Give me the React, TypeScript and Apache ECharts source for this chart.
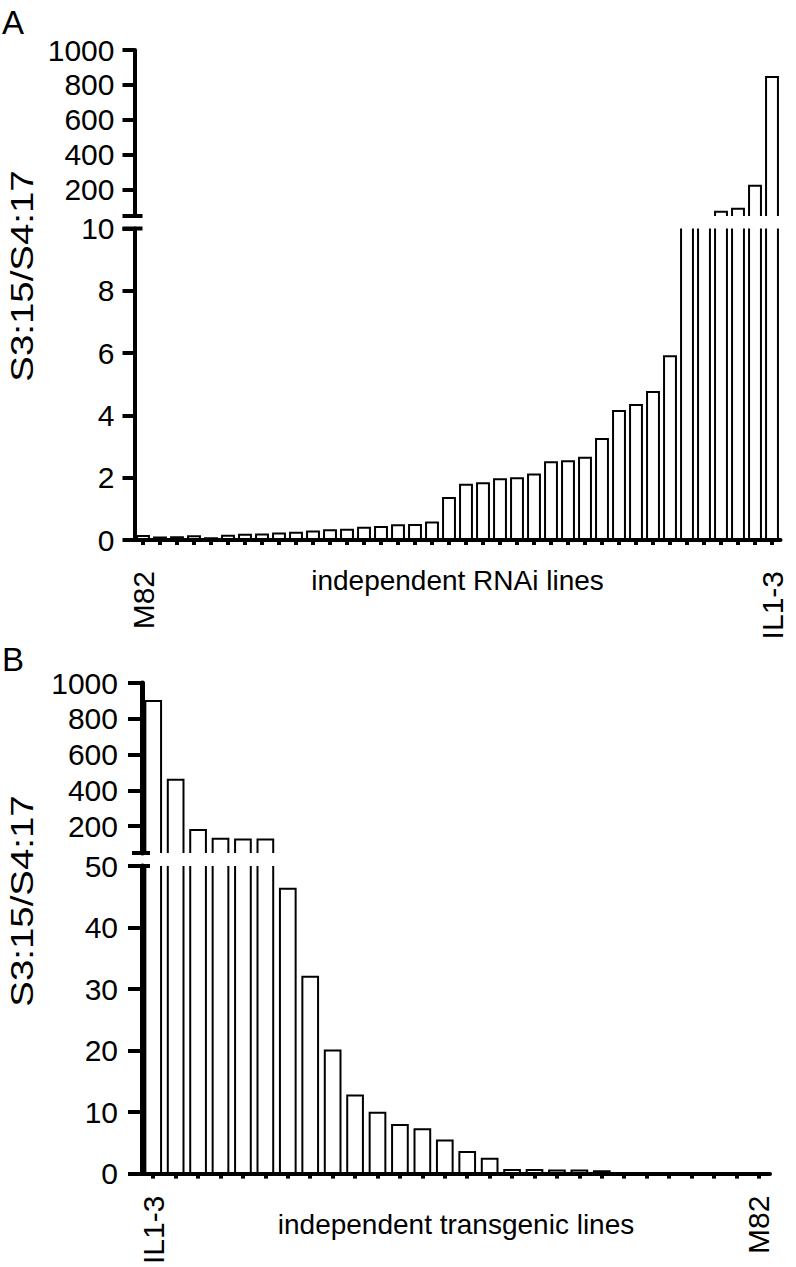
import React, { useEffect, useRef } from "react";
import * as echarts from "echarts";

// ---------- data ----------
const categoriesA: string[] = [
  "M82",
  ...Array.from({ length: 36 }, (_, k) => `RNAi-${k + 1}`),
  "IL1-3",
];
const valuesA: number[] = [
  0.13, 0.08, 0.09, 0.12, 0.06, 0.14, 0.17, 0.18, 0.21, 0.23, 0.27, 0.31, 0.33,
  0.39, 0.42, 0.47, 0.48, 0.56, 1.35, 1.77, 1.82, 1.95, 1.98, 2.1, 2.5, 2.53,
  2.64, 3.24, 4.14, 4.33, 4.75, 5.9, 25, 40, 74, 91, 223, 846,
];

const categoriesB: string[] = [
  "IL1-3",
  ...Array.from({ length: 26 }, (_, k) => `T-${k + 1}`),
  "M82",
];
const valuesB: number[] = [
  899, 460, 178, 129, 125, 125, 46.3, 32.0, 20.0, 12.7, 9.9, 7.9, 7.2, 5.4, 3.5,
  2.4, 0.6, 0.6, 0.5, 0.5, 0.4, 0.05, 0.03, 0.02, 0.02, 0.01, 0.01, 0.01,
];

const upperTicks: number[] = [200, 400, 600, 800, 1000];
const axisLabelA = "independent RNAi lines";
const axisLabelB = "independent transgenic lines";
const yTitle = "S3:15/S4:17";

// ---------- layout ----------
const FONT = "'Liberation Sans', Arial, Helvetica, sans-serif";
const LA = { left: 134.5, width: 646, topTop: 50, topH: 166, botTop: 228.5, botH: 311.5 };
const LB = { left: 142, width: 628, topTop: 683, topH: 170, botTop: 866, botH: 310 };

function makeRender(segMin: number, segMax: number) {
  return (params: any, api: any) => {
    const i = api.value(0);
    const v = api.value(1);
    if (v <= segMin && segMin > 0) return null;
    const base = api.coord([i, segMin]);
    const bw = api.size([1, 0])[0] * 0.7;
    const xl = base[0] - bw / 2;
    const xr = base[0] + bw / 2;
    const style = { stroke: "#000", lineWidth: 2, fill: null };
    if (v > segMax) {
      const top = api.coord([i, segMax])[1];
      return {
        type: "group",
        children: [
          { type: "line", shape: { x1: xl, y1: base[1], x2: xl, y2: top }, style },
          { type: "line", shape: { x1: xr, y1: base[1], x2: xr, y2: top }, style },
        ],
      };
    }
    const top = api.coord([i, v])[1];
    return {
      type: "polyline",
      shape: { points: [[xl, base[1]], [xl, top], [xr, top], [xr, base[1]]] },
      style,
    };
  };
}

function yAxisUpper(gridIndex: number, margin: number, tickLen: number, width: number) {
  return {
    type: "value",
    gridIndex,
    min: 50,
    max: 1000,
    axisLine: { show: true, lineStyle: { color: "#000", width } },
    axisTick: { show: true, customValues: upperTicks, length: tickLen, lineStyle: { color: "#000", width: 4 } },
    axisLabel: {
      customValues: upperTicks,
      fontSize: 30,
      color: "#000",
      fontFamily: FONT,
      margin,
      formatter: (v: number) => String(v),
    },
    splitLine: { show: false },
  };
}

function yAxisLower(gridIndex: number, max: number, interval: number, margin: number, tickLen: number, width: number) {
  return {
    type: "value",
    gridIndex,
    min: 0,
    max,
    interval,
    axisLine: { show: true, lineStyle: { color: "#000", width } },
    axisTick: { show: true, length: tickLen, lineStyle: { color: "#000", width: 4 } },
    axisLabel: { fontSize: 30, color: "#000", fontFamily: FONT, margin, formatter: (v: number) => String(v) },
    splitLine: { show: false },
  };
}

function xAxisHidden(gridIndex: number, data: string[]) {
  return { type: "category", gridIndex, data, show: false };
}

function xAxisShown(gridIndex: number, data: string[], name: string, labelMargin: number, nameGap: number) {
  const first = data[0];
  const last = data[data.length - 1];
  return {
    type: "category",
    gridIndex,
    data,
    name,
    nameLocation: "middle",
    nameGap,
    nameMoveOverlap: false,
    nameTextStyle: { fontSize: 28, color: "#000", fontFamily: FONT },
    axisLine: { show: true, lineStyle: { color: "#000", width: 4 } },
    axisTick: { show: true, alignWithLabel: true, interval: 0, length: 5, lineStyle: { color: "#000", width: 4 } },
    axisLabel: {
      interval: 0,
      rotate: 90,
      fontSize: 30,
      color: "#000",
      fontFamily: FONT,
      margin: labelMargin,
      padding: [0, 0, 8, 0],
      formatter: (val: string) => (val === first || val === last ? val : ""),
    },
    splitLine: { show: false },
  };
}

export default function App() {
  const ref = useRef<HTMLDivElement>(null);
  useEffect(() => {
    if (!ref.current) return;
    const chart = echarts.init(ref.current, undefined, { renderer: "svg" });
    const dataA = valuesA.map((v, i) => [i, v]);
    const dataB = valuesB.map((v, i) => [i, v]);
    const breakStyle = { stroke: "#000", lineWidth: 4 };
    chart.setOption({
      animation: false,
      backgroundColor: "#fff",
      grid: [
        { left: LA.left, width: LA.width, top: LA.topTop, height: LA.topH },
        { left: LA.left, width: LA.width, top: LA.botTop, height: LA.botH },
        { left: LB.left, width: LB.width, top: LB.topTop, height: LB.topH },
        { left: LB.left, width: LB.width, top: LB.botTop, height: LB.botH },
      ],
      xAxis: [
        xAxisHidden(0, categoriesA),
        xAxisShown(1, categoriesA, axisLabelA, 31, 26),
        xAxisHidden(2, categoriesB),
        xAxisShown(3, categoriesB, axisLabelB, 22, 37),
      ],
      yAxis: [
        yAxisUpper(0, 20, 12, 4),
        yAxisLower(1, 10, 2, 20, 12, 4),
        yAxisUpper(2, 24, 14, 5),
        yAxisLower(3, 50, 10, 24, 14, 5),
      ],
      series: [
        { type: "custom", xAxisIndex: 0, yAxisIndex: 0, data: dataA, encode: { x: 0, y: 1 }, renderItem: makeRender(50, 1000) },
        { type: "custom", xAxisIndex: 1, yAxisIndex: 1, data: dataA, encode: { x: 0, y: 1 }, renderItem: makeRender(0, 10) },
        { type: "custom", xAxisIndex: 2, yAxisIndex: 2, data: dataB, encode: { x: 0, y: 1 }, renderItem: makeRender(50, 1000) },
        { type: "custom", xAxisIndex: 3, yAxisIndex: 3, data: dataB, encode: { x: 0, y: 1 }, renderItem: makeRender(0, 50) },
      ],
      graphic: [
        { type: "text", x: 2, y: 6, style: { text: "A", fontSize: 33, fontFamily: FONT, fill: "#000" } },
        { type: "text", x: 2, y: 643, style: { text: "B", fontSize: 33, fontFamily: FONT, fill: "#000" } },
        {
          type: "text", x: 22, y: 276, rotation: Math.PI / 2, scaleX: 1.2,
          style: { text: yTitle, fontSize: 32, fontFamily: FONT, fill: "#000", align: "center", verticalAlign: "middle" },
        },
        {
          type: "text", x: 22, y: 901, rotation: Math.PI / 2, scaleX: 1.2,
          style: { text: yTitle, fontSize: 32, fontFamily: FONT, fill: "#000", align: "center", verticalAlign: "middle" },
        },
        // axis break markers
        { type: "line", shape: { x1: LA.left - 12, y1: LA.topTop + LA.topH, x2: LA.left + 8, y2: LA.topTop + LA.topH }, style: breakStyle },
        { type: "line", shape: { x1: LA.left - 12, y1: LA.botTop, x2: LA.left + 8, y2: LA.botTop }, style: breakStyle },
        { type: "line", shape: { x1: LB.left - 10, y1: LB.topTop + LB.topH, x2: LB.left + 8, y2: LB.topTop + LB.topH }, style: breakStyle },
        { type: "line", shape: { x1: LB.left - 14, y1: LB.botTop, x2: LB.left + 8, y2: LB.botTop }, style: breakStyle },
      ],
    });
    return () => chart.dispose();
  }, []);
  return (
    <div
      ref={ref}
      style={{ position: "absolute", left: 0, top: 0, width: 796, height: 1267, background: "#fff" }}
    />
  );
}
